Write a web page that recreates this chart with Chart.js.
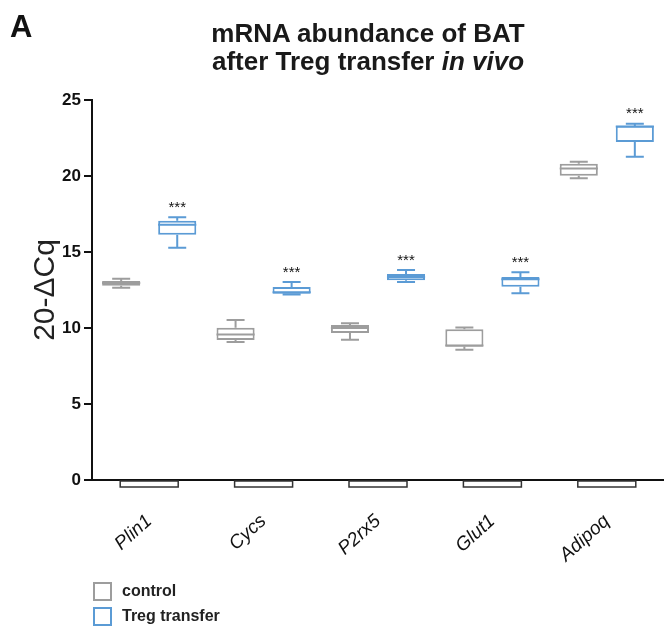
<!DOCTYPE html>
<html>
<head>
<meta charset="utf-8">
<script src="https://cdn.jsdelivr.net/npm/chart.js@4"></script>
<style>
  body { margin: 0; background: #fff; font-family: "Liberation Sans", Arial, sans-serif; }
  #wrap { position: relative; width: 664px; height: 631px; }
  #panel { position: absolute; left: 10px; top: 9px; font-size: 31px; font-weight: bold; color: #111; }
  #title { position: absolute; left: 148px; width: 440px; top: 19px; text-align: center;
           font-size: 26px; font-weight: bold; line-height: 28px; color: #1a1a1a; }
  .leg { position: absolute; left: 93px; font-size: 16px; font-weight: bold; color: #222; }
  .leg span { display: inline-block; width: 15px; height: 15px; border: 2px solid; vertical-align: middle; margin-right: 10px; }
</style>
</head>
<body>
<div id="wrap">
  <canvas id="myChart" width="664" height="631"></canvas>
  <div id="panel">A</div>
  <div id="title">mRNA abundance of BAT<br>after Treg transfer <i>in vivo</i></div>
  <div class="leg" style="top:582px"><span style="border-color:#9d9d9d"></span>control</div>
  <div class="leg" style="top:607px"><span style="border-color:#5b9bd5"></span>Treg transfer</div>
</div>
<script>
const categories = ['Plin1', 'Cycs', 'P2rx5', 'Glut1', 'Adipoq'];

// control group: whisker min, Q1, median, Q3, whisker max
const controlMin = [12.65, 9.08, 9.23, 8.57, 19.85];
const controlQ1 = [12.78, 9.21, 9.67, 8.77, 20.02];
const controlMedian = [12.96, 9.58, 10.0, 8.85, 20.5];
const controlQ3 = [13.09, 10.02, 10.2, 9.91, 20.81];
const controlMax = [13.24, 10.53, 10.31, 10.04, 20.94];

// Treg transfer group
const tregMin = [15.28, 12.2, 13.03, 12.28, 21.27];
const tregQ1 = [16.14, 12.26, 13.14, 12.72, 22.24];
const tregMedian = [16.8, 12.35, 13.35, 13.2, 23.25];
const tregQ3 = [17.06, 12.7, 13.55, 13.36, 23.31];
const tregMax = [17.28, 13.03, 13.82, 13.66, 23.44];

const significance = ['***', '***', '***', '***', '***'];
const yTicks = [0, 5, 10, 15, 20, 25];

const grey = '#9d9d9d';
const blue = '#5b9bd5';

const groups = [
    { min: controlMin, q1: controlQ1, med: controlMedian, q3: controlQ3, max: controlMax, color: grey },
    { min: tregMin, q1: tregQ1, med: tregMedian, q3: tregQ3, max: tregMax, color: blue, stars: significance }
];

// whiskers, medians, stars and the little brackets under the axis
const boxPlugin = {
    id: 'boxExtras',
    afterDatasetsDraw(chart) {
        const ctx = chart.ctx;
        const y = chart.scales.y;
        const x = chart.scales.x;
        ctx.save();
        groups.forEach((g, di) => {
            const meta = chart.getDatasetMeta(di);
            meta.data.forEach((bar, i) => {
                const cx = bar.x;
                const half = bar.width / 2;
                const cap = 9;
                ctx.strokeStyle = g.color;
                ctx.lineWidth = 2;
                ctx.beginPath();
                // upper whisker
                ctx.moveTo(cx, y.getPixelForValue(g.q3[i]));
                ctx.lineTo(cx, y.getPixelForValue(g.max[i]));
                ctx.moveTo(cx - cap, y.getPixelForValue(g.max[i]));
                ctx.lineTo(cx + cap, y.getPixelForValue(g.max[i]));
                // lower whisker
                ctx.moveTo(cx, y.getPixelForValue(g.q1[i]));
                ctx.lineTo(cx, y.getPixelForValue(g.min[i]));
                ctx.moveTo(cx - cap, y.getPixelForValue(g.min[i]));
                ctx.lineTo(cx + cap, y.getPixelForValue(g.min[i]));
                // median
                ctx.moveTo(cx - half, y.getPixelForValue(g.med[i]));
                ctx.lineTo(cx + half, y.getPixelForValue(g.med[i]));
                ctx.stroke();
                if (g.stars) {
                    ctx.fillStyle = '#111';
                    ctx.font = '15px "Liberation Sans", Arial, sans-serif';
                    ctx.textAlign = 'center';
                    ctx.textBaseline = 'bottom';
                    ctx.fillText(g.stars[i], cx, y.getPixelForValue(g.max[i]) - 2);
                }
            });
        });
        // group brackets below the x axis
        const base = y.getPixelForValue(0);
        categories.forEach((c, i) => {
            const cx = x.getPixelForValue(i);
            ctx.strokeStyle = '#333';
            ctx.lineWidth = 1.5;
            ctx.strokeRect(cx - 29, base + 1, 58, 6);
        });
        ctx.restore();
    }
};

new Chart(document.getElementById('myChart'), {
    type: 'bar',
    data: {
        labels: categories,
        datasets: groups.map((g, di) => ({
            label: di === 0 ? 'control' : 'Treg transfer',
            data: categories.map((c, i) => [g.q1[i], g.q3[i]]),
            backgroundColor: '#fff',
            borderColor: g.color,
            borderWidth: 2,
            borderSkipped: false,
            categoryPercentage: 0.98,
            barPercentage: 0.68
        }))
    },
    options: {
        responsive: false,
        animation: false,
        layout: { padding: { top: 100, left: 0, right: 0, bottom: 0 } },
        plugins: {
            legend: { display: false },
            tooltip: { enabled: false }
        },
        scales: {
            x: {
                grid: { display: false },
                border: { display: true, color: '#111', width: 2 },
                ticks: {
                    color: '#111',
                    font: { family: '"Liberation Sans", Arial, sans-serif', size: 19, style: 'italic' },
                    minRotation: 42,
                    maxRotation: 42,
                    autoSkip: false,
                    padding: 22
                },
                afterFit: s => { s.height = 151; }
            },
            y: {
                min: 0,
                max: 25,
                afterBuildTicks: s => { s.ticks = yTicks.map(v => ({ value: v })); },
                grid: { display: true, drawOnChartArea: false, drawTicks: true, tickLength: 8, color: '#111', lineWidth: 2 },
                border: { display: true, color: '#111', width: 2 },
                ticks: {
                    color: '#111',
                    font: { family: '"Liberation Sans", Arial, sans-serif', size: 17, weight: 'bold' },
                    padding: 3
                },
                title: {
                    display: true,
                    text: '20-\u0394Cq',
                    color: '#222',
                    font: { family: '"Liberation Sans", Arial, sans-serif', size: 30 },
                    padding: { top: 28, bottom: 0 }
                },
                afterFit: s => { s.width = 92; }
            }
        }
    },
    plugins: [boxPlugin]
});
</script>
</body>
</html>
